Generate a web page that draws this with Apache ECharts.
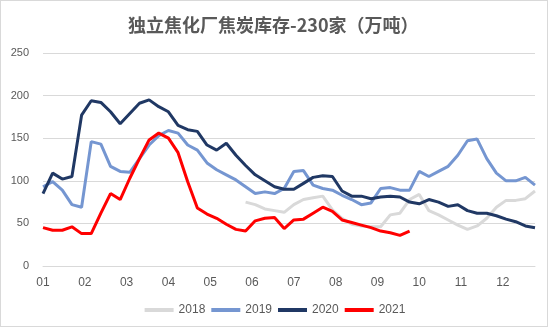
<!DOCTYPE html>
<html><head><meta charset="utf-8">
<script src="https://cdn.jsdelivr.net/npm/echarts@6/dist/echarts.min.js"></script>
<style>
html,body{margin:0;padding:0;background:#fff}
#c{width:550px;height:328px;position:absolute;left:0;top:0}
#b{position:absolute;left:0;top:0;width:546px;height:325px;border:1px solid #d9d9d9;pointer-events:none}
</style>
</head><body><div id="c"></div><div id="b"></div>
<script>
const titleText = '独立焦化厂焦炭库存-230家（万吨）';
const monthLabels = ['01','02','03','04','05','06','07','08','09','10','11','12'];
const weekCount = 52;
const seriesNames = ['2018','2019','2020','2021'];
const v2018 = [null,null,null,null,null,null,null,null,null,null,null,null,null,null,null,null,null,null,null,null,null,
  75,72,67,65,63,72,78,80,82,66,56,49,47,46,46,60,62,78,84,65,60,54,48,43,47,56,69,77,77,79,88];
const v2019 = [93,99,89,72,69,146,143,117,111,110,126,142,153,159,156,142,136,121,113,107,101,93,85,87,85,91,111,112,95,91,89,83,78,72,74,91,92,89,89,111,105,111,117,130,147,149,126,109,100,100,104,95];
const v2020 = [85,109,102,105,177,194,192,181,167,179,191,195,187,181,165,160,158,142,136,144,130,118,107,100,93,90,90,97,104,106,105,88,82,82,79,81,82,81,75,73,78,75,70,72,65,62,62,59,55,52,47,45];
const v2021 = [45,42,42,46,38,38,62,85,78,103,126,148,156,150,133,99,68,61,56,49,43,41,53,56,57,44,54,55,62,69,64,54,51,48,45,41,39,36,41];
const colors = ['#d9d9d9','#7596d1','#203864','#ff0000'];

const toPairs = arr => arr.map((v,i)=> v==null ? null : [i,v]).filter(p=>p);
const step = weekCount/12;
const allVals = [v2018,v2019,v2020,v2021];

const chart = echarts.init(document.getElementById('c'));
chart.setOption({
  animation:false,
  backgroundColor:'#fff',
  title:{text:titleText,left:123,top:11,
    textStyle:{fontFamily:'"Noto Sans CJK SC", sans-serif',fontSize:18,fontWeight:'bold',color:'#595959'}},
  legend:{bottom:7,left:'center',icon:'rect',itemWidth:29,itemHeight:4,itemGap:6,
    textStyle:{fontFamily:'"Liberation Sans", sans-serif',fontSize:12,color:'#595959'},
    data:seriesNames},
  grid:{left:43,right:15,top:53,bottom:62,containLabel:false},
  xAxis:{type:'value',min:0,max:weekCount-1,interval:step,
    axisLine:{show:true,lineStyle:{color:'#d9d9d9',width:1}},
    axisTick:{show:false},splitLine:{show:false},
    axisLabel:{showMaxLabel:false,margin:11,color:'#595959',fontFamily:'"Liberation Sans", sans-serif',fontSize:12,
      formatter:v=>{const k=Math.round(v/step);return monthLabels[k]!==undefined?monthLabels[k]:'';}}},
  yAxis:{type:'value',min:0,max:250,interval:50,
    axisLine:{show:false},axisTick:{show:false},
    splitLine:{lineStyle:{color:'#d9d9d9',width:1}},
    axisLabel:{margin:14,color:'#595959',fontFamily:'"Liberation Sans", sans-serif',fontSize:11}},
  series: seriesNames.map((n,k)=>({
    name:n,type:'line',data:toPairs(allVals[k]),showSymbol:false,symbol:'none',
    lineStyle:{color:colors[k],width:3},itemStyle:{color:colors[k]},z:2+k
  }))
});
</script></body></html>
